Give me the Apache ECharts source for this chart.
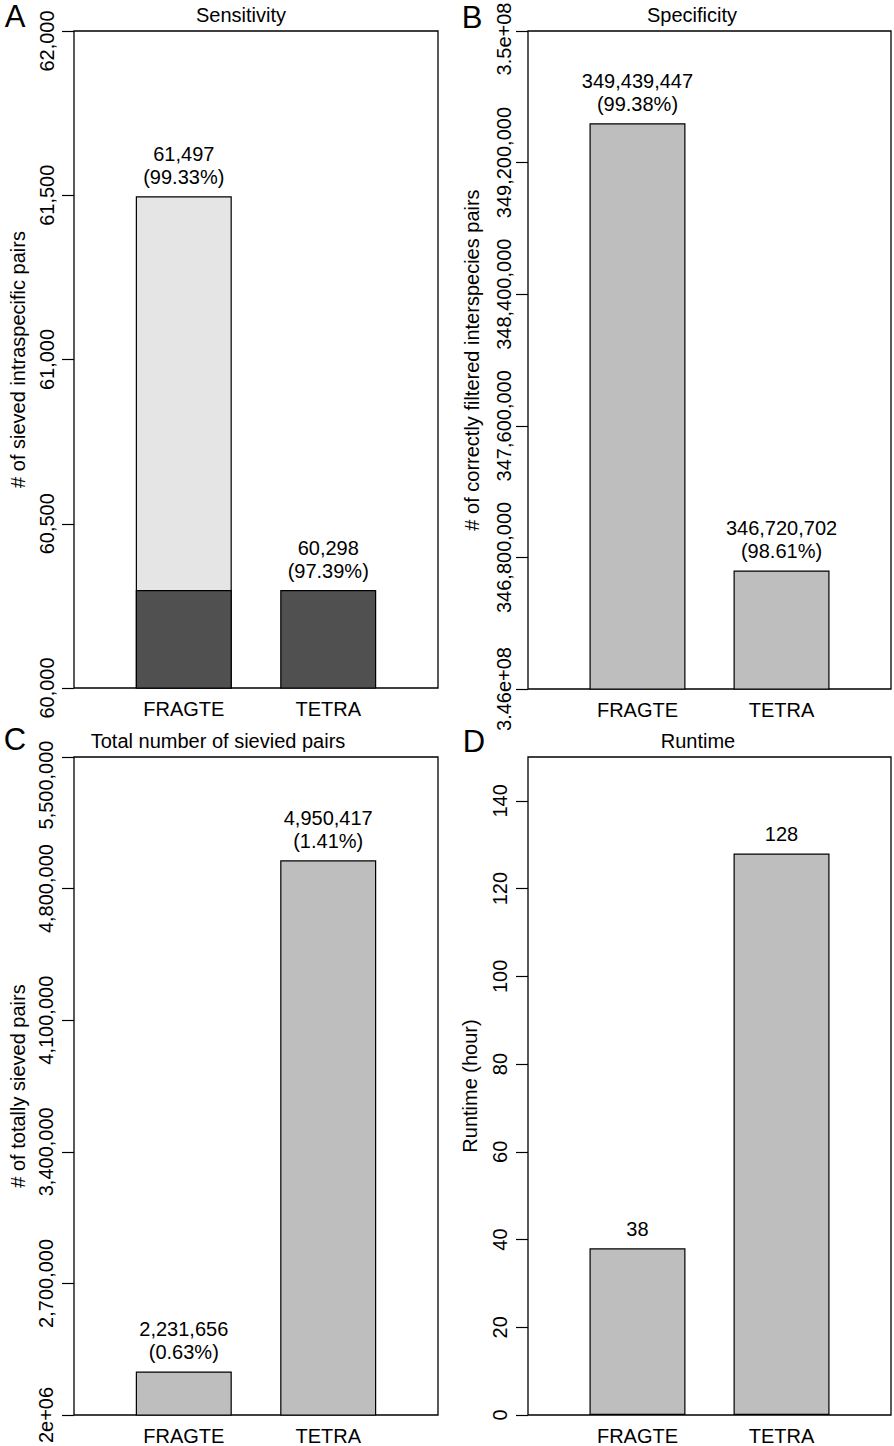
<!DOCTYPE html>
<html>
<head>
<meta charset="utf-8">
<script src="https://cdn.jsdelivr.net/npm/echarts@6/dist/echarts.min.js"></script>
<style>
html,body{margin:0;padding:0;background:#fff;}
#c{width:894px;height:1446px;}
</style>
</head>
<body>
<div id="c"></div>
<script>
// ---- data ----
const categories = ['FRAGTE', 'TETRA'];
const catPos = [0, 1];

// A: Sensitivity
const sensFragteOnly = [61497, null];      // light part (FRAGTE total)
const sensShared = [60298, 60298];         // dark part (shared)
const sensLabelValues = [61497, 60298];
const sensPct = ['99.33%', '97.39%'];
const sensTicks = [60000, 60500, 61000, 61500, 62000];

// B: Specificity
const specValues = [349439447, 346720702];
const specPct = ['99.38%', '98.61%'];
const specTicks = [346000000, 346800000, 347600000, 348400000, 349200000, 350000000];
const specTickLabels = ['3.46e+08', '346,800,000', '347,600,000', '348,400,000', '349,200,000', '3.5e+08'];

// C: Total number of sieved pairs
const totalValues = [2231656, 4950417];
const totalPct = ['0.63%', '1.41%'];
const totalTicks = [2000000, 2700000, 3400000, 4100000, 4800000, 5500000];
const totalTickLabels = ['2e+06', '2,700,000', '3,400,000', '4,100,000', '4,800,000', '5,500,000'];

// D: Runtime
const runtimeValues = [38, 128];
const runtimeTicks = [0, 20, 40, 60, 80, 100, 120, 140];

// ---- helpers ----
const FONT = 'Liberation Sans, Arial, Helvetica, sans-serif';
const fmt = v => v.toLocaleString('en-US');
const pairs = (vals) => catPos.map((x, i) => [x, vals[i]]);

const grids = [
  {left: 74, top: 31, width: 364, height: 657},
  {left: 528, top: 31, width: 363, height: 658},
  {left: 74, top: 757, width: 364, height: 658},
  {left: 528, top: 757, width: 363, height: 658}
];

function xAxisFor(gi) {
  return {
    type: 'value', gridIndex: gi, min: -0.76, max: 1.76, position: 'bottom',
    splitLine: {show: false}, axisLine: {show: false, onZero: false}, axisTick: {show: false},
    axisLabel: {
      customValues: catPos, formatter: v => categories[Math.round(v)] || '',
      color: '#000', fontSize: 20, fontFamily: FONT, margin: 11
    }
  };
}
function yAxisFor(gi, ticks, labels, name, nameGap, margin, topPad) {
  const last = ticks[ticks.length - 1];
  return {
    type: 'value', gridIndex: gi, position: 'left', min: ticks[0], max: (gi === 3 ? 150 : last),
    splitLine: {show: false},
    axisLine: {show: false, onZero: false},
    axisTick: {show: true, customValues: ticks, length: 12, lineStyle: {color: '#000', width: 1.2}},
    axisLabel: {
      customValues: ticks, rotate: 90, margin: margin,
      showMinLabel: true, showMaxLabel: true, hideOverlap: false,
      formatter: (v) => {
        const i = ticks.indexOf(v);
        const t = labels ? labels[i] : fmt(v);
        return (topPad && v === last) ? '{mx|' + t + '}' : t;
      },
      rich: {mx: {padding: [0, topPad || 0, 0, 0], fontSize: 20, fontFamily: FONT, color: '#000'}},
      color: '#000', fontSize: 20, fontFamily: FONT
    },
    name: name, nameLocation: 'middle', nameGap: nameGap,
    nameTextStyle: {color: '#000', fontSize: 20, fontFamily: FONT}
  };
}

const barBase = {
  type: 'bar', barWidth: 96,
  itemStyle: {color: '#bebebe', borderColor: '#000', borderWidth: 1.2},
  label: {show: true, position: 'top', distance: 8, color: '#000', fontSize: 20, fontFamily: FONT, lineHeight: 23}
};

const option = {
  animation: false,
  backgroundColor: '#fff',
  grid: grids.map(g => Object.assign({show: true, outerBoundsMode: 'none', containLabel: false, borderColor: '#000', borderWidth: 1.3, backgroundColor: 'transparent'}, g)),
  xAxis: [0, 1, 2, 3].map(xAxisFor),
  yAxis: [
    yAxisFor(0, sensTicks, null, '# of sieved intraspecific pairs', 46, 17, 20),
    yAxisFor(1, specTicks, specTickLabels, '# of correctly filtered interspecies pairs', 46, 14, 16),
    yAxisFor(2, totalTicks, totalTickLabels, '# of totally sieved pairs', 46, 18, 56),
    yAxisFor(3, runtimeTicks, null, 'Runtime (hour)', 48, 18, 0)
  ],
  series: [
    Object.assign({}, barBase, {
      xAxisIndex: 0, yAxisIndex: 0, data: pairs(sensFragteOnly), barGap: '-100%',
      itemStyle: {color: '#e5e5e5', borderColor: '#000', borderWidth: 1.2},
      label: Object.assign({}, barBase.label, {formatter: p => fmt(sensLabelValues[p.dataIndex]) + '\n(' + sensPct[p.dataIndex] + ')'})
    }),
    Object.assign({}, barBase, {
      xAxisIndex: 0, yAxisIndex: 0, data: pairs(sensShared), barGap: '-100%',
      itemStyle: {color: '#505050', borderColor: '#000', borderWidth: 1.2},
      label: Object.assign({}, barBase.label, {formatter: p => p.dataIndex === 1 ? fmt(sensLabelValues[1]) + '\n(' + sensPct[1] + ')' : ''})
    }),
    Object.assign({}, barBase, {
      xAxisIndex: 1, yAxisIndex: 1, data: pairs(specValues),
      label: Object.assign({}, barBase.label, {formatter: p => fmt(specValues[p.dataIndex]) + '\n(' + specPct[p.dataIndex] + ')'})
    }),
    Object.assign({}, barBase, {
      xAxisIndex: 2, yAxisIndex: 2, data: pairs(totalValues),
      label: Object.assign({}, barBase.label, {formatter: p => fmt(totalValues[p.dataIndex]) + '\n(' + totalPct[p.dataIndex] + ')'})
    }),
    Object.assign({}, barBase, {
      xAxisIndex: 3, yAxisIndex: 3, data: pairs(runtimeValues),
      label: Object.assign({}, barBase.label, {formatter: p => String(runtimeValues[p.dataIndex])})
    })
  ],
  graphic: [
    {type: 'text', x: 241, y: 15, style: {text: 'Sensitivity', fontSize: 20, fontFamily: FONT, fill: '#000', align: 'center', verticalAlign: 'middle'}},
    {type: 'text', x: 692, y: 15, style: {text: 'Specificity', fontSize: 20, fontFamily: FONT, fill: '#000', align: 'center', verticalAlign: 'middle'}},
    {type: 'text', x: 218, y: 741, style: {text: 'Total number of sievied pairs', fontSize: 20, fontFamily: FONT, fill: '#000', align: 'center', verticalAlign: 'middle'}},
    {type: 'text', x: 698, y: 741, style: {text: 'Runtime', fontSize: 20, fontFamily: FONT, fill: '#000', align: 'center', verticalAlign: 'middle'}},
    {type: 'text', x: 15, y: 16, style: {text: 'A', fontSize: 31, fontFamily: FONT, fill: '#000', align: 'center', verticalAlign: 'middle'}},
    {type: 'text', x: 472, y: 17, style: {text: 'B', fontSize: 31, fontFamily: FONT, fill: '#000', align: 'center', verticalAlign: 'middle'}},
    {type: 'text', x: 15, y: 739, style: {text: 'C', fontSize: 31, fontFamily: FONT, fill: '#000', align: 'center', verticalAlign: 'middle'}},
    {type: 'text', x: 474, y: 741, style: {text: 'D', fontSize: 31, fontFamily: FONT, fill: '#000', align: 'center', verticalAlign: 'middle'}}
  ]
};

const chart = echarts.init(document.getElementById('c'), null, {renderer: 'svg', width: 894, height: 1446});
chart.setOption(option);
</script>
</body>
</html>
